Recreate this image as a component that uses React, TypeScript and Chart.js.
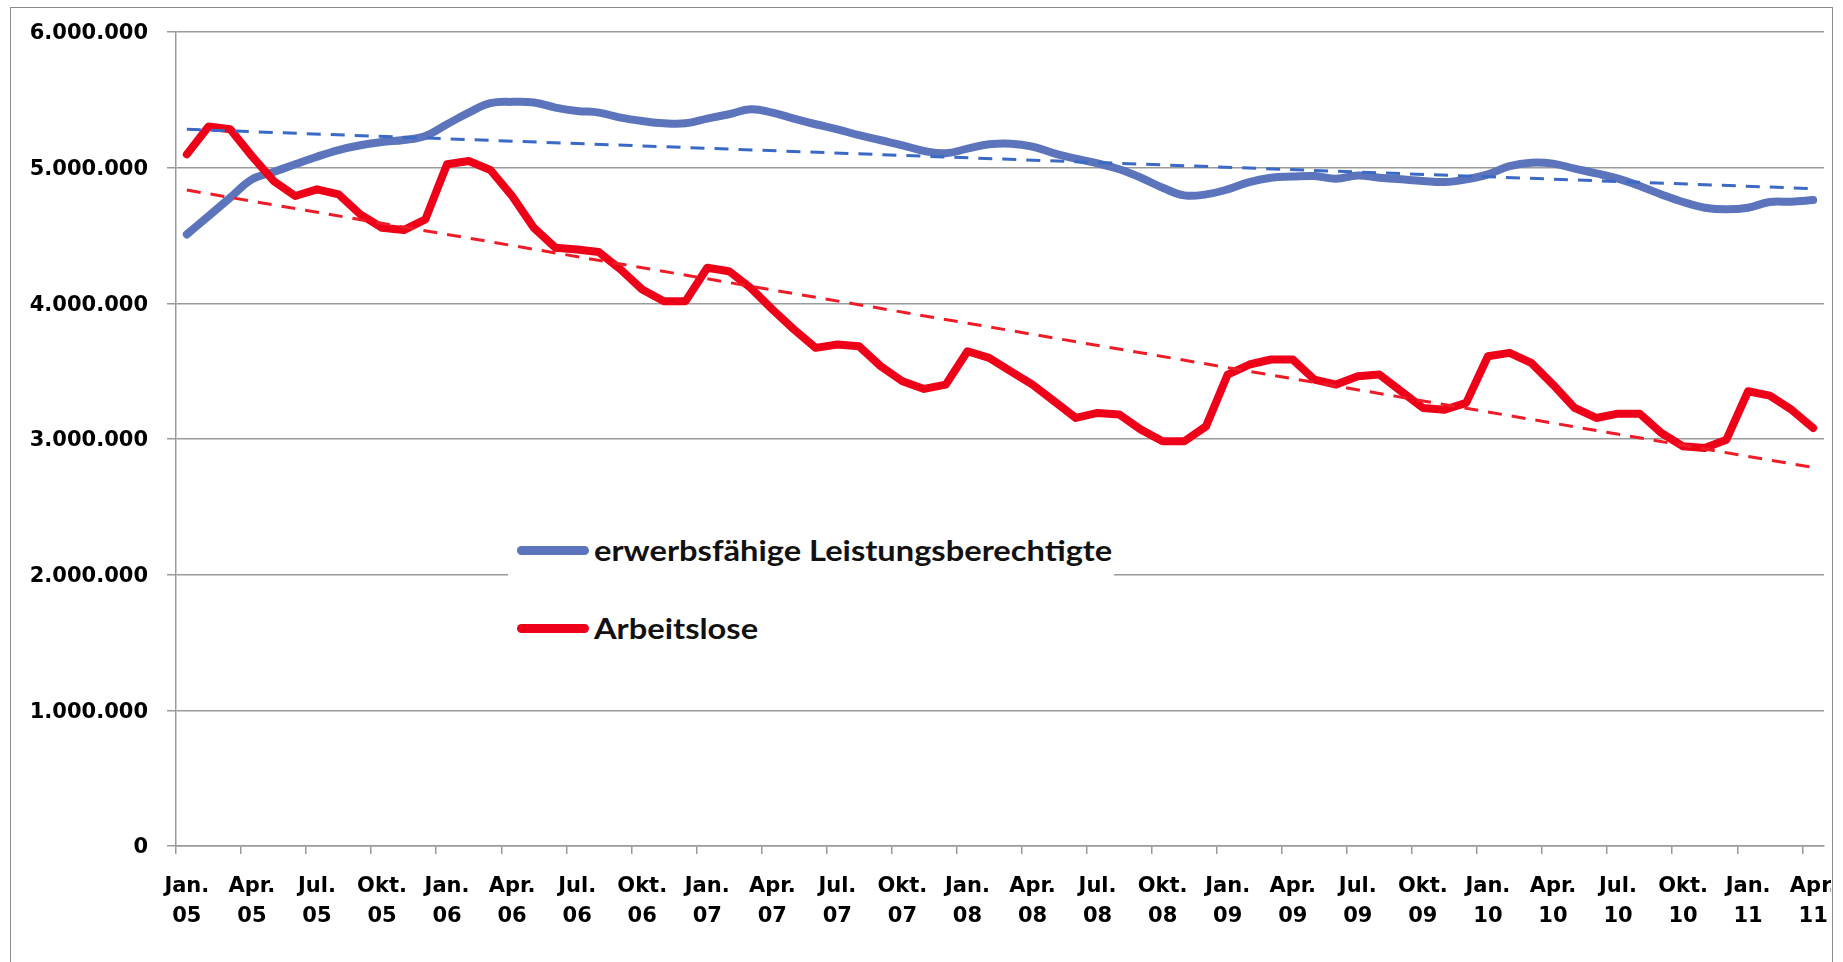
import React, { useEffect, useRef } from 'react';
import { Chart, registerables } from 'chart.js';

Chart.register(...registerables);

// ---- DATA ----
const monthNames = ['Jan.', 'Feb.', 'Mär.', 'Apr.', 'Mai', 'Jun.', 'Jul.', 'Aug.', 'Sep.', 'Okt.', 'Nov.', 'Dez.'];
const years = ['05', '06', '07', '08', '09', '10', '11'];
const monthCount = 76; // Jan. 05 … Apr. 11

const categories: string[] = [];
for (const y of years) {
  for (const m of monthNames) {
    if (categories.length < monthCount) categories.push(`${m} ${y}`);
  }
}

const seriesNames = ['erwerbsfähige Leistungsberechtigte', 'Arbeitslose'];

const leistungsberechtigte = [
  4508000, 4643000, 4779000, 4914000, 4968000, 5025000, 5081000, 5130000, 5165000, 5189000, 5204000, 5234000,
  5320000, 5406000, 5475000, 5485000, 5480000, 5443000, 5418000, 5406000, 5369000, 5344000, 5327000, 5327000,
  5362000, 5394000, 5430000, 5406000, 5362000, 5320000, 5283000, 5239000, 5202000, 5165000, 5123000, 5106000,
  5140000, 5172000, 5177000, 5155000, 5106000, 5066000, 5032000, 4988000, 4926000, 4852000, 4796000, 4803000,
  4840000, 4894000, 4926000, 4934000, 4938000, 4919000, 4943000, 4926000, 4914000, 4902000, 4894000, 4914000,
  4951000, 5012000, 5037000, 5030000, 4993000, 4958000, 4919000, 4865000, 4803000, 4747000, 4705000, 4693000,
  4705000, 4747000, 4749000, 4761000,
];

const arbeitslose = [
  5098000, 5303000, 5283000, 5085000, 4902000, 4791000, 4840000, 4803000, 4656000, 4557000, 4540000, 4619000,
  5025000, 5049000, 4983000, 4791000, 4557000, 4410000, 4397000, 4378000, 4250000, 4102000, 4016000, 4016000,
  4262000, 4237000, 4114000, 3955000, 3807000, 3672000, 3696000, 3684000, 3536000, 3426000, 3369000, 3401000,
  3647000, 3598000, 3499000, 3401000, 3278000, 3155000, 3192000, 3180000, 3069000, 2983000, 2983000, 3093000,
  3475000, 3549000, 3586000, 3586000, 3438000, 3401000, 3462000, 3475000, 3352000, 3229000, 3216000, 3266000,
  3610000, 3635000, 3561000, 3401000, 3229000, 3155000, 3187000, 3187000, 3044000, 2946000, 2934000, 2995000,
  3352000, 3320000, 3216000, 3081000,
];

// linear trend lines: value at first and last month
const trendLeistungsberechtigte = [5283000, 4845000];
const trendArbeitslose = [4835000, 2790000];

const yMin = 0;
const yMax = 6000000;
const yStep = 1000000;

// ---- STYLE ----
const BLUE = '#5b74bb';
const RED = '#ee0018';
const BLUE_DASH = '#3a69c6';
const RED_DASH = '#ee1c26';
const GRID = '#9a9a9a';
const AXIS_FONT = { family: '"DejaVu Sans", Verdana, sans-serif', weight: 'bold' as const, size: 21 };

const fmt = (v: number) => String(Math.round(v)).replace(/\B(?=(\d{3})+(?!\d))/g, '.');

export default function App() {
  const ref = useRef<HTMLCanvasElement>(null);

  useEffect(() => {
    if (!ref.current) return;
    const first = categories[0];
    const last = categories[categories.length - 1];
    const chart = new Chart(ref.current, {
      type: 'line',
      data: {
        labels: categories,
        datasets: [
          {
            label: 'Trend ' + seriesNames[0],
            data: [
              { x: first, y: trendLeistungsberechtigte[0] },
              { x: last, y: trendLeistungsberechtigte[1] },
            ] as any,
            borderColor: BLUE_DASH,
            borderWidth: 3,
            borderDash: [14, 10],
            pointRadius: 0,
            fill: false,
          },
          {
            label: 'Trend ' + seriesNames[1],
            data: [
              { x: first, y: trendArbeitslose[0] },
              { x: last, y: trendArbeitslose[1] },
            ] as any,
            borderColor: RED_DASH,
            borderWidth: 3,
            borderDash: [14, 10],
            pointRadius: 0,
            fill: false,
          },
          {
            label: seriesNames[1],
            data: arbeitslose,
            borderColor: RED,
            borderWidth: 8,
            borderCapStyle: 'round',
            borderJoinStyle: 'round',
            pointRadius: 0,
            tension: 0,
            fill: false,
          },
          {
            label: seriesNames[0],
            data: leistungsberechtigte,
            borderColor: BLUE,
            borderWidth: 8,
            borderCapStyle: 'round',
            borderJoinStyle: 'round',
            pointRadius: 0,
            tension: 0.4,
            fill: false,
          },
        ],
      },
      options: {
        responsive: false,
        animation: false,
        events: [],
        layout: { padding: { left: 0, top: 32, right: 1880 - 1824, bottom: 0 } },
        plugins: {
          legend: { display: false },
          tooltip: { enabled: false },
        },
        scales: {
          x: {
            type: 'category',
            offset: true,
            grid: {
              offset: true,
              drawOnChartArea: false,
              drawTicks: true,
              tickLength: 8,
              lineWidth: 1.5,
              color: (ctx: any) => (ctx.type === 'tick' && ctx.index % 3 === 0 ? GRID : 'rgba(0,0,0,0)'),
              tickColor: (ctx: any) => (ctx.type === 'tick' && ctx.index % 3 === 0 ? GRID : 'rgba(0,0,0,0)'),
            },
            border: { display: true, color: GRID, width: 1.5 },
            ticks: {
              autoSkip: false,
              maxRotation: 0,
              minRotation: 0,
              padding: 18,
              color: '#000',
              font: { ...AXIS_FONT, lineHeight: '30px' },
              callback: function (this: any, value: any, index: number) {
                if (index % 3 !== 0) return '';
                return String(this.getLabelForValue(value)).split(' ');
              },
            },
            afterFit: (s: any) => {
              s.height = 962 - 846;
            },
          },
          y: {
            min: yMin,
            max: yMax,
            grid: { color: GRID, lineWidth: 1.5, tickLength: 9, drawTicks: true },
            border: { display: true, color: GRID, width: 1.5 },
            ticks: {
              stepSize: yStep,
              padding: 19,
              labelOffset: 2,
              color: '#000',
              font: AXIS_FONT,
              callback: (v: any) => fmt(Number(v)),
            },
            afterFit: (s: any) => {
              s.width = 176;
            },
          },
        },
      },
    });
    return () => chart.destroy();
  }, []);

  const legendFont: React.CSSProperties = {
    position: 'absolute',
    fontFamily: 'Lato, "Open Sans", sans-serif',
    fontWeight: 700,
    fontSize: 28,
    lineHeight: '28px',
    whiteSpace: 'nowrap',
    color: '#111',
    transform: 'scaleX(1.165)',
    transformOrigin: 'left center',
  };
  const LX = 508;
  const LY = 512;

  return (
    <div style={{ position: 'fixed', left: 0, top: 0, width: 1843, height: 962, overflow: 'hidden', background: '#fff' }}>
      <div style={{ position: 'absolute', left: 0, top: 0, width: 1831, height: 962, overflow: 'hidden' }}>
        <canvas ref={ref} width={1880} height={962} style={{ display: 'block', width: 1880, height: 962 }} />
      </div>
      <div
        style={{
          position: 'absolute',
          left: 10,
          top: 7,
          width: 1821,
          height: 1000,
          border: '1px solid #8c8c8c',
          pointerEvents: 'none',
        }}
      />
      <div style={{ position: 'absolute', left: LX, top: LY, width: 1114 - LX, height: 150, background: '#fff' }}>
        <div style={{ position: 'absolute', left: 517 - LX, top: 546 - LY, width: 72, height: 9, borderRadius: 4.5, background: BLUE }} />
        <div style={{ ...legendFont, left: 594 - LX, top: 536 - LY }}>{seriesNames[0]}</div>
        <div style={{ position: 'absolute', left: 517 - LX, top: 624 - LY, width: 72, height: 9, borderRadius: 4.5, background: RED }} />
        <div style={{ ...legendFont, left: 594 - LX, top: 614 - LY }}>{seriesNames[1]}</div>
      </div>
    </div>
  );
}
